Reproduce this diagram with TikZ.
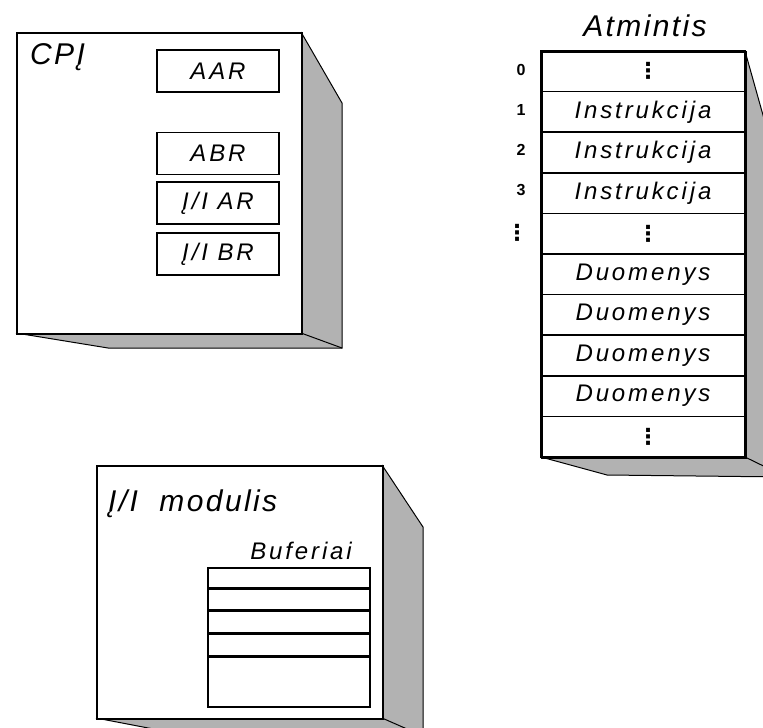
\documentclass[tikz,border=0pt]{standalone}
\usepackage{fontspec}
\setmainfont{Liberation Sans}
\newfontfamily\wideface[LetterSpace=12]{Liberation Sans}
\newfontfamily\titleface[LetterSpace=8]{Liberation Sans}
\newfontfamily\dotface{DejaVu Sans}
\definecolor{sidegray}{RGB}{178,178,178}

\begin{document}
\begin{tikzpicture}[x=1pt,y=-1pt,
  front/.style={draw=black, fill=white, line width=1.8pt},
  edge/.style={draw=black, line width=1pt},
  smalltext/.style={font=\wideface\itshape\fontsize{24}{24}\selectfont},
  bigtext/.style={font=\titleface\itshape\fontsize{30}{30}\selectfont, inner sep=0pt},
  reg/.style={draw=black, line width=1.6pt, minimum width=122pt, minimum height=42pt,
    inner sep=0pt, smalltext},
  cell/.style={draw=black, line width=1.6pt, minimum width=204pt, minimum height=40.6pt,
    inner sep=0pt, smalltext},
  addr/.style={font=\bfseries\fontsize{16}{16}\selectfont, inner sep=0pt},
  vdot/.style={font=\dotface\bfseries\fontsize{22}{22}\selectfont, inner sep=0pt},
  buf/.style={draw=black, line width=1.6pt, minimum width=162pt, inner sep=0pt}
]
\useasboundingbox (0,0) rectangle (763,728);
\clip (0,0) rectangle (763,728);

% ---------- processor ----------
\fill[sidegray] (301,32) -- (342,103) -- (342,348) -- (108,348) -- (16,333) -- (301,333) -- cycle;
\draw[edge] (301,32) -- (342,103) -- (342,348) -- (108,348) -- (16,333);
\draw[edge] (301,333) -- (342,348);
\node[front, minimum width=285pt, minimum height=301pt, inner sep=0pt, anchor=north west]
  (cpu) at (16,32) {};
\node[bigtext, anchor=base west] (cpuname) at (30,64) {CPĮ};
\node[reg] (aar) at (218,71) {AAR};
\node[reg] (abr) at (218,153.5) {ABR};
\node[reg] (ioar) at (218,203) {Į/I AR};
\node[reg] (iobr) at (218,254) {Į/I BR};

% ---------- memory ----------
\fill[sidegray] (745,51) -- (786,197) -- (786,477) -- (607,475) -- (541,457) -- (745,457) -- cycle;
\draw[edge] (745,51) -- (786,197) -- (786,477) -- (607,475) -- (541,457);
\draw[edge] (745,457) -- (786,477);
\node[front, minimum width=204pt, minimum height=406pt, inner sep=0pt, anchor=north west]
  (mem) at (541,51) {};
\node[bigtext, anchor=base] (memname) at (645,36) {Atmintis};
\foreach \i/\t in {0/{},1/Instrukcija,2/Instrukcija,3/Instrukcija,4/{},
                   5/Duomenys,6/Duomenys,7/Duomenys,8/Duomenys,9/{}}
  \node[cell] (m\i) at (643,{71.3+40.6*\i}) {\t};
\foreach \i in {0,4,9}
  \node[vdot] (d\i) at ([xshift=5pt]m\i.center) {⋮};
\foreach \i/\a in {0/0,1/1,2/2,3/3}
  \node[addr] (a\i) at (521,{70+40*\i}) {\a};
\node[vdot] (a4) at (517,233) {⋮};

% ---------- input/output module ----------
\fill[sidegray] (382,465) -- (423,527) -- (423,736) -- (190,736) -- (96,718) -- (382,718) -- cycle;
\draw[edge] (382,465) -- (423,527) -- (423,736) -- (190,736) -- (96,718);
\draw[edge] (382,718) -- (423,736);
\node[front, minimum width=286pt, minimum height=253pt, inner sep=0pt, anchor=north west]
  (io) at (96,465) {};
\node[bigtext, anchor=base west] (ioname) at (108,511) {Į/I\ \ modulis};
\node[smalltext, inner sep=0pt, anchor=base east] (bufname) at (352,559) {Buferiai};
\node[buf, minimum height=20pt, anchor=north] (b1) at (289,567) {};
\node[buf, minimum height=20pt, anchor=north] (b2) at (b1.south) {};
\node[buf, minimum height=22pt, anchor=north] (b3) at (b2.south) {};
\node[buf, minimum height=21pt, anchor=north] (b4) at (b3.south) {};
\node[buf, minimum height=50pt, anchor=north] (b5) at (b4.south) {};
\end{tikzpicture}
\end{document}
